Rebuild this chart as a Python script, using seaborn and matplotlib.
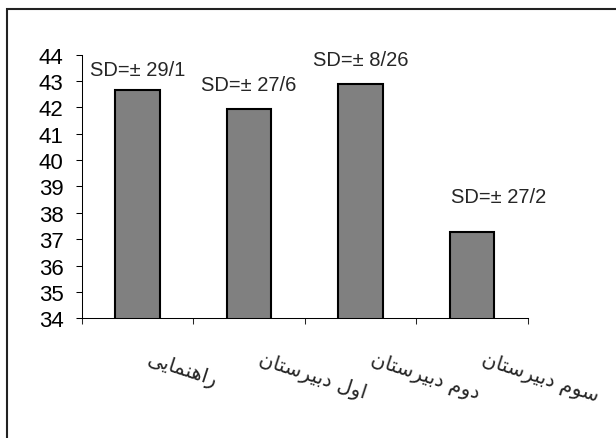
import matplotlib
matplotlib.use("Agg")
import matplotlib.pyplot as plt
import matplotlib.transforms as mtransforms
from matplotlib.patches import Rectangle
import seaborn as sns

# values
groups = ["راهنمایی", "اول دبیرستان", "دوم دبیرستان", "سوم دبیرستان"]
means = [42.65, 41.95, 42.9, 37.27]
sd_labels = ["SD=± 29/1", "SD=± 27/6", "SD=± 8/26", "SD=± 27/2"]

# matplotlib has no arabic shaping, so pick the presentation forms by hand
FORMS = {
    "ا": ("\uFE8D", "\uFE8E", None, None),
    "ب": ("\uFE8F", "\uFE90", "\uFE91", "\uFE92"),
    "ت": ("\uFE95", "\uFE96", "\uFE97", "\uFE98"),
    "د": ("\uFEA9", "\uFEAA", None, None),
    "ر": ("\uFEAD", "\uFEAE", None, None),
    "س": ("\uFEB1", "\uFEB2", "\uFEB3", "\uFEB4"),
    "ل": ("\uFEDD", "\uFEDE", "\uFEDF", "\uFEE0"),
    "م": ("\uFEE1", "\uFEE2", "\uFEE3", "\uFEE4"),
    "ن": ("\uFEE5", "\uFEE6", "\uFEE7", "\uFEE8"),
    "ه": ("\uFEE9", "\uFEEA", "\uFEEB", "\uFEEC"),
    "و": ("\uFEED", "\uFEEE", None, None),
    "ی": ("\uFBFC", "\uFBFD", "\uFBFE", "\uFBFF"),
}


def shape(text):
    out = []
    for i, ch in enumerate(text):
        if ch not in FORMS:
            out.append(ch)
            continue
        prev = text[i - 1] if i > 0 else None
        nxt = text[i + 1] if i + 1 < len(text) else None
        join_prev = prev in FORMS and FORMS[prev][2] is not None
        join_next = nxt in FORMS and FORMS[ch][2] is not None
        if join_prev and join_next:
            out.append(FORMS[ch][3])
        elif join_prev:
            out.append(FORMS[ch][1])
        elif join_next:
            out.append(FORMS[ch][2])
        else:
            out.append(FORMS[ch][0])
    return "".join(reversed(out))


sns.set_style("ticks")
plt.rcParams["font.family"] = ["Liberation Sans", "DejaVu Sans"]

fig = plt.figure(figsize=(6.16, 4.39), dpi=100)
ax = fig.add_axes([0.133, 0.2727, 0.724, 0.6005])

sns.barplot(x=list(range(len(means))), y=means, color="#808080", saturation=1,
            edgecolor="black", linewidth=1.5, width=0.4, ax=ax)

ax.set_ylim(34, 44)
ax.set_xlim(-0.5, 3.5)
ax.set_yticks(range(34, 45))
ax.set_xticks([-0.5, 0.5, 1.5, 2.5, 3.5])
ax.set_xticklabels([])
ax.tick_params(axis="y", labelsize=16, length=4.3, width=0.75, pad=9, colors="black")
ax.tick_params(axis="x", length=4.3, width=0.75)
for side in ["top", "right"]:
    ax.spines[side].set_visible(False)
for side in ["left", "bottom"]:
    ax.spines[side].set_linewidth(0.75)
    ax.spines[side].set_color("black")

# SD annotations (positions picked to match the original layout)
sd_x = [0, 1, 2, 3.24]
sd_y = [43.44, 42.87, 43.82, 38.63]
for x, y, s in zip(sd_x, sd_y, sd_labels):
    ax.text(x, y, s, ha="center", va="center", fontsize=14.5)

# rotated group names under the axis
trans = mtransforms.blended_transform_factory(ax.transData, ax.transAxes)
for i, g in enumerate(groups):
    ax.text(i + 0.12, -0.115, shape(g), transform=trans, rotation=-18,
            rotation_mode="anchor", ha="left", va="top", fontsize=14.5,
            family="DejaVu Sans")

# frame around the chart area (runs off the right and bottom edges)
fig.add_artist(Rectangle((7 / 616, -0.2), 1.2, (439 - 10) / 439 + 0.2,
                         transform=fig.transFigure, fill=False,
                         edgecolor="#222222", linewidth=1.5))

fig.savefig("out.png", dpi=100)
